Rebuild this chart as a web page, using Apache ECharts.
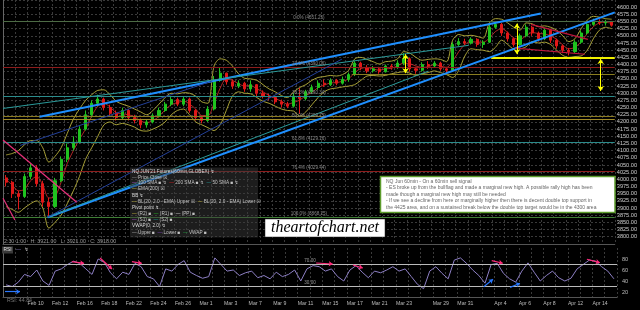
<!DOCTYPE html>
<html><head><meta charset="utf-8">
<script src="https://cdn.jsdelivr.net/npm/echarts@6/dist/echarts.min.js"></script>
<style>html,body{margin:0;padding:0;background:#000}#c{width:640px;height:310px}</style>
</head><body><div id="c"></div>
<script>
// ---- DATA (half-session slots) ----
const openP = [4005,3990,3950,3940,4010,4040,3985,3920,3905,3995,
  4070,4110,4130,4175,4225,4265,4280,4250,4230,4215,
  4240,4215,4205,4190,4200,4222,4240,4262,4278,4262,
  4280,4240,4215,4205,4245,4345,4370,4340,4325,4335,
  4315,4330,4300,4290,4285,4270,4262,4255,4290,4282,
  4305,4320,4335,4330,4345,4335,4348,4365,4405,4390,
  4378,4385,4375,4395,4390,4405,4420,4385,4380,4400,
  4395,4405,4385,4380,4470,4480,4475,4488,4470,4478,
  4530,4540,4510,4490,4470,4500,4530,4510,4490,4520,
  4485,4465,4450,4445,4478,4510,4540,4550,4545,4548];
const closeP = [3990,3950,3940,4010,4040,3985,3920,3905,3995,4070,
  4110,4130,4175,4225,4265,4280,4250,4230,4215,4240,
  4215,4205,4190,4200,4222,4240,4262,4278,4262,4280,
  4240,4215,4205,4245,4345,4370,4340,4325,4335,4315,
  4330,4300,4290,4285,4270,4262,4255,4290,4282,4305,
  4320,4335,4330,4345,4335,4348,4365,4405,4390,4378,
  4385,4375,4395,4390,4405,4420,4385,4380,4400,4395,
  4405,4385,4380,4470,4480,4475,4488,4470,4478,4530,
  4540,4510,4490,4470,4500,4530,4510,4490,4520,4485,
  4465,4450,4445,4478,4510,4540,4550,4545,4548,4537];
const lowP = [3975,3935,3895,3935,4000,3975,3905,3868,3900,3990,
  4060,4100,4125,4170,4215,4255,4240,4220,4205,4210,
  4205,4195,4178,4180,4195,4215,4235,4255,4255,4255,
  4232,4205,4195,4200,4240,4340,4330,4315,4318,4305,
  4305,4290,4282,4275,4262,4250,4248,4250,4228,4275,
  4298,4312,4322,4325,4328,4330,4340,4360,4380,4370,
  4372,4368,4372,4382,4385,4398,4375,4368,4375,4385,
  4388,4378,4370,4378,4465,4468,4470,4462,4458,4475,
  4525,4500,4480,4462,4465,4495,4500,4480,4485,4475,
  4455,4440,4432,4440,4472,4505,4535,4538,4536,4532];
const highP = [4015,3995,3960,4020,4055,4050,3995,3935,4005,4080,
  4125,4150,4185,4240,4275,4295,4285,4260,4240,4250,
  4245,4225,4212,4210,4230,4250,4270,4290,4285,4290,
  4285,4245,4222,4255,4360,4388,4372,4348,4345,4340,
  4345,4332,4310,4298,4290,4278,4270,4300,4318,4312,
  4330,4345,4348,4352,4350,4358,4372,4412,4410,4398,
  4395,4392,4400,4402,4415,4440,4425,4392,4408,4412,
  4412,4410,4392,4478,4492,4490,4495,4492,4485,4540,
  4551,4545,4515,4495,4508,4540,4535,4515,4528,4525,
  4490,4470,4458,4485,4518,4548,4560,4558,4556,4552];
const maLine = [4000,3980,3960,3965,3995,4010,3980,3935,3940,3990,
  4055,4100,4140,4175,4220,4255,4265,4252,4232,4228,
  4225,4218,4203,4198,4204,4220,4242,4260,4267,4273,
  4262,4245,4222,4222,4265,4318,4350,4345,4333,4325,
  4327,4315,4305,4292,4282,4272,4262,4268,4276,4292,
  4303,4320,4328,4336,4337,4342,4350,4372,4386,4390,
  4385,4380,4385,4387,4396,4405,4403,4395,4390,4392,
  4400,4395,4390,4412,4445,4470,4480,4478,4478,4492,
  4515,4525,4512,4492,4488,4500,4512,4508,4507,4500,
  4488,4468,4455,4460,4480,4508,4532,4545,4547,4544];
const bbUpper = [4085,4090,4100,4120,4135,4135,4110,4060,4080,4110,
  4160,4210,4245,4275,4295,4310,4312,4295,4272,4262,
  4255,4245,4235,4225,4240,4262,4285,4300,4298,4302,
  4300,4290,4270,4265,4395,4420,4415,4395,4368,4352,
  4350,4345,4330,4315,4305,4292,4285,4305,4320,4330,
  4345,4355,4358,4362,4360,4365,4380,4420,4425,4418,
  4410,4402,4410,4412,4420,4445,4440,4425,4415,4418,
  4420,4418,4410,4485,4505,4500,4502,4498,4492,4545,
  4560,4558,4545,4530,4520,4545,4542,4532,4535,4530,
  4520,4500,4480,4490,4525,4555,4568,4565,4560,4558];
const bbLower = [3905,3895,3885,3900,3915,3925,3900,3830,3850,3875,
  3915,3960,4010,4070,4110,4150,4190,4200,4190,4195,
  4190,4182,4170,4168,4175,4185,4200,4225,4240,4245,
  4225,4200,4190,4180,4170,4190,4240,4290,4305,4300,
  4298,4285,4272,4265,4255,4245,4240,4238,4220,4235,
  4260,4285,4305,4315,4318,4322,4325,4330,4345,4360,
  4362,4360,4362,4368,4372,4375,4370,4362,4368,4372,
  4378,4372,4365,4355,4380,4430,4455,4452,4450,4445,
  4460,4485,4470,4455,4455,4462,4480,4475,4478,4470,
  4450,4432,4425,4428,4430,4450,4490,4520,4530,4525];
const rsi = [33,30,38,52,48,60,40,32,58,62,
  70,76,72,62,52,80,74,55,44,56,
  52,72,66,48,44,30,62,58,70,77,
  56,50,45,48,82,70,58,60,50,55,
  58,46,50,44,56,48,52,60,40,62,
  68,66,58,62,48,40,60,68,56,46,
  58,55,60,66,58,62,48,34,26,58,
  66,54,44,78,82,72,60,50,36,70,
  72,54,44,38,58,73,56,40,50,58,
  46,40,45,62,70,78,76,66,58,44];
const tickDays = [2,4,6,8,10,12,14,16,18,20,22,24,26,28,30,32,35,37,40,42,44,46,48];
const tickLabels = ['Feb 10','Feb 12','Feb 16','Feb 18','Feb 22','Feb 24','Feb 26','Mar 1','Mar 3','Mar 7','Mar 9','Mar 11',
  'Mar 15','Mar 17','Mar 21','Mar 23','Mar 29','Mar 31','Apr 4','Apr 6','Apr 8','Apr 12','Apr 14'];
const fibLevels = [4551.25, 4390.06, 4290.34, 4209.75, 4129.16, 4029.44, 3868.25];
const fibLabels = ['0.0% (4551.25)','23.6% (4390.06)','38.2% (4290.34)','50.0% (4209.75)','61.8% (4129.16)','76.4% (4029.44)','100.0% (3868.25)'];
const extraLevels = [4221];
const levelSegments = [[4425, 79.8, 100], [4365, 57.0, 100]]; // price, from slot, to slot
const trendLines = [ // [slotA, priceA, slotB, priceB]
  [6.0, 4218, 87.9, 4578],
  [7.3, 3868, 100, 4582],
  [0, 4247, 76.1, 4467],
  [7.3, 3868, 69.5, 4377],
  [7.3, 3868, 55.4, 4419],
  [2.8, 4118, 34.2, 4343],
  [0, 4137, 12.05, 3920],
  [0, 3934, 1.95, 3858],
  [86.3, 4540, 95.6, 4488],
  [83.7, 4457, 95.1, 4436]
];
const arrowsPrice = [[65.8, 4436, 4370], [84.0, 4543, 4436], [97.7, 4419, 4308]];
const rsiLevels = [70, 30];
const rsiDownArrows = [[11.2,75.1,13.2,72.2],[15.8,81.8,17.75,61.8],[21.0,75.1,22.6,72.2],[51.0,72.7,53.7,70.9],
  [57.0,69.1,58.6,63.6],[79.6,76.9,81.4,72.2],[95.1,79.5,97.2,73.3]];
const rsiUpArrows = [[0.33,20.5,2.77,20.5],[78.3,29.6,79.8,43.1],[82.6,28.5,84.2,35.8]];
const noteLines = [
  'NQ Jun 60min - On a 60min sell signal',
  '- ES broke up from the bullflag and made a marginal new high. A possible rally high has been',
  'made though a marginal new high may still be needed',
  '- If we see a decline from here or marginally higher then there is decent double top support in',
  'the 4425 area, and on a sustained break below the double top target would be in the 4300 area'
];

// ---- STYLES ----
const fibColors = ['#4d6b45','#8e1c1c','#2b8c8c','#a08a2a','#2b8c8c','#8e1c1c','#3f7f35'];
const trendStyles = [
  {color:'#1e8fff',width:2},{color:'#1e8fff',width:2},{color:'#2a9a9a',width:1},{color:'#2a9a9a',width:1},
  {color:'#23409a',width:1},{color:'#23409a',width:1},{color:'#e8307a',width:1.2},{color:'#e8307a',width:1.2},
  {color:'#c0143c',width:1.2},{color:'#c0143c',width:1.2}
];

const chart = echarts.init(document.getElementById('c'), null, {renderer:'canvas'});
const N = closeP.length;
const candles = closeP.map((c,i)=>[i+0.5, openP[i], c, lowP[i], highP[i]]);
const fmtDay = v => { const k = tickDays.indexOf(Math.round(v/2)); return k>=0 ? tickLabels[k] : ''; };

const fibMarks = fibLevels.map((p,i)=>({yAxis:p, lineStyle:{color:fibColors[i],width:1,type:'solid'},
  label:{show:true, formatter:fibLabels[i], position:'insideMiddleTop', color:'#8a8a8a', fontSize:4.6, distance:1}}));
extraLevels.forEach(p=>fibMarks.push({yAxis:p, lineStyle:{color:'#8a7a22',width:1,type:'solid'}, label:{show:false}}));
levelSegments.forEach((s,i)=>fibMarks.push([{coord:[s[1],s[0]], lineStyle:{color:i===0?'#f0f000':'#8a7e20',width:i===0?2:1,type:'solid'}},{coord:[s[2],s[0]]}]));
const trendMarks = trendLines.map((t,i)=>[{coord:[t[0],t[1]], lineStyle:{color:trendStyles[i].color,width:trendStyles[i].width,type:'solid'}},{coord:[t[2],t[3]]}]);
const arrowMarks = arrowsPrice.map(a=>[{coord:[a[0],a[1]]},{coord:[a[0],a[2]]}]);
const rsiArrowMarks = rsiDownArrows.map(a=>[{coord:[a[0],a[1]], lineStyle:{color:'#ff2a7a',width:1.2,type:'solid'}},{coord:[a[2],a[3]]}])
  .concat(rsiUpArrows.map(a=>[{coord:[a[0],a[1]], lineStyle:{color:'#2a78ff',width:1.2,type:'solid'}},{coord:[a[2],a[3]]}]));

const legendRows = [
  [['NQ JUN\'21 Futures(60min,GLOBEX) ↯','#d8d8d8']],
  [['— ','#9a9a9a'],['Price Close ☒','#c4c4c4']],
  [['— ','#b050d0'],['100 SMA ■ ↯  ','#c4c4c4'],['— ','#e02020'],['200 SMA ■ ↯  ','#c4c4c4'],['— ','#20a0a0'],['50 SMA ■ ↯','#c4c4c4']],
  [['— ','#d0c040'],['EMA(200) ☒','#c4c4c4']],
  [['BB ↯','#d8d8d8']],
  [['— ','#d0c040'],['BL(20, 2.0 - EMA) Upper ☒  ','#c4c4c4'],['— ','#d0c040'],['BL(20, 2.0 - EMA) Lower ☒','#c4c4c4']],
  [['Pivot point ↯','#d8d8d8']],
  [['— ','#d0c040'],['(R2) ■  ','#c4c4c4'],['— ','#20c020'],['(R1) ■  ','#c4c4c4'],['— ','#dddddd'],['(PP) ■','#c4c4c4']],
  [['— ','#b050d0'],['(S1) ■  ','#c4c4c4'],['— ','#20a0a0'],['(S2) ■','#c4c4c4']],
  [['VWAP(0, 2.0) ↯','#d8d8d8']],
  [['— ','#aaaaaa'],['Upper ■  ','#c4c4c4'],['— ','#8040c0'],['Lower ■  ','#c4c4c4'],['— ','#20a040'],['VWAP ■','#c4c4c4']]
];
const legendY = [171.5,177.3,183.2,189,195.8,202,208,214,220,226,232.5];
const legendGraphics = legendRows.map((row,r)=>{
  const rich = {}; let txt = '';
  row.forEach((s,j)=>{ rich['s'+j] = {fill:s[1], font:'4.7px "Liberation Sans", "DejaVu Sans"'}; txt += '{s'+j+'|'+s[0]+'}'; });
  return {type:'text', x:132, y:legendY[r], style:{text:txt, rich:rich, font:'4.7px "Liberation Sans"', verticalAlign:'middle'}, z:100};
});

const option = {
  backgroundColor:'#000',
  animation:false,
  grid:[{left:3,right:23,top:-1.52,height:245.4},{left:3,right:23,top:248,height:49.5}],
  xAxis:[
    {type:'value',gridIndex:0,min:0,max:N,interval:2,axisLabel:{show:false},axisTick:{show:false},
      axisLine:{show:true,lineStyle:{color:'#555',width:1}},splitLine:{show:true,lineStyle:{color:'#3a3a3a',type:[2,2]}}},
    {type:'value',gridIndex:1,min:0,max:N,interval:2,axisTick:{show:false},
      axisLine:{show:true,lineStyle:{color:'#555',width:1}},splitLine:{show:true,lineStyle:{color:'#3a3a3a',type:[2,2]}},
      axisLabel:{formatter:fmtDay,color:'#bbbbbb',fontSize:5.2,align:'left',margin:4,fontFamily:'Liberation Sans'}}
  ],
  yAxis:[
    {type:'value',gridIndex:0,position:'right',min:3775,max:4625,interval:25,
      axisLabel:{color:'#cccccc',fontSize:5.6,margin:2,fontFamily:'Liberation Sans',formatter:v=>(v<3800||v>4600)?'':v.toFixed(2)},
      axisLine:{show:true,lineStyle:{color:'#666'}},axisTick:{show:false},
      splitLine:{show:true,lineStyle:{color:'#3a3a3a',type:[2,2]}}},
    {type:'value',gridIndex:1,position:'right',min:10,max:100,interval:10,
      axisLabel:{color:'#bbbbbb',fontSize:5.6,margin:5,fontFamily:'Liberation Sans',formatter:v=>[20,40,60,80].includes(v)?String(v):''},
      axisLine:{show:true,lineStyle:{color:'#666'}},axisTick:{show:false},splitLine:{show:false}}
  ],
  series:[
    {type:'line',xAxisIndex:0,yAxisIndex:0,data:[[-10,4000]],showSymbol:false,silent:true,z:1,
      markLine:{silent:true,symbol:'none',animation:false,data:fibMarks}},
    {type:'line',xAxisIndex:0,yAxisIndex:0,data:bbUpper.map((v,i)=>[i+0.5,v]),showSymbol:false,smooth:0.3,z:2,
      lineStyle:{color:'#b9b13c',width:0.9}},
    {type:'line',xAxisIndex:0,yAxisIndex:0,data:bbLower.map((v,i)=>[i+0.5,v]),showSymbol:false,smooth:0.3,z:2,
      lineStyle:{color:'#b9b13c',width:0.9}},
    {type:'candlestick',xAxisIndex:0,yAxisIndex:0,data:candles,barWidth:2.6,z:3,
      itemStyle:{color:'#1fc31f',color0:'#e01818',borderColor:'#1fc31f',borderColor0:'#e01818',borderWidth:1}},
    {type:'line',xAxisIndex:0,yAxisIndex:0,data:maLine.map((v,i)=>[i+0.5,v]),showSymbol:false,smooth:0.3,z:3,
      lineStyle:{color:'#d83030',width:0.8}},
    {type:'line',xAxisIndex:0,yAxisIndex:0,data:[[-10,4000]],showSymbol:false,silent:true,z:4,
      markLine:{silent:true,symbol:'none',animation:false,data:trendMarks}},
    {type:'line',xAxisIndex:0,yAxisIndex:0,data:[[-10,4000]],showSymbol:false,silent:true,z:5,
      markLine:{silent:true,symbol:['arrow','arrow'],symbolSize:5,animation:false,
        lineStyle:{color:'#ffff00',width:1,type:'solid'},label:{show:false},data:arrowMarks}},
    {type:'line',xAxisIndex:0,yAxisIndex:0,data:[[-10,4000]],showSymbol:false,silent:true,z:6,
      markLine:{silent:true,symbol:'none',animation:false,
        data:[{yAxis:closeP[N-1],lineStyle:{opacity:0},label:{show:true,position:'end',distance:2,
          formatter:closeP[N-1].toFixed(2),backgroundColor:'#c9c633',color:'#111',fontSize:5.6,padding:[1,1],fontFamily:'Liberation Sans'}}]}},
    {type:'line',xAxisIndex:1,yAxisIndex:1,data:rsi.map((v,i)=>[i+0.5,v]),showSymbol:false,z:3,
      lineStyle:{color:'#8d7fc4',width:1},
      markLine:{silent:true,symbol:'none',animation:false,
        data:rsiLevels.map(v=>({yAxis:v,lineStyle:{color:'#bbbbbb',width:1,type:'solid'},
          label:{show:true,position:'insideMiddleTop',formatter:v.toFixed(2),color:'#999',fontSize:4.6,distance:1}}))}},
    {type:'line',xAxisIndex:1,yAxisIndex:1,data:[[-10,50]],showSymbol:false,silent:true,z:4,
      markLine:{silent:true,symbol:['none','arrow'],symbolSize:4,animation:false,label:{show:false},data:rsiArrowMarks}}
  ],
  graphic:[
    {type:'rect',shape:{x:130,y:167.5,width:128,height:70},style:{fill:'rgba(58,58,58,0.5)'},z:99},
    ...legendGraphics,
    {type:'rect',shape:{x:380.5,y:176.5,width:234.5,height:36},style:{fill:'#ffffff',stroke:'#5c9c2c',lineWidth:1.5},z:100},
    {type:'text',x:386,y:178.5,style:{text:noteLines.join('\n'),fill:'#666666',font:'5px "Liberation Sans"',lineHeight:6.4},z:101},
    {type:'rect',shape:{x:265,y:219,width:120,height:18},style:{fill:'#ffffff',stroke:'#222',lineWidth:0.5},z:100},
    {type:'text',x:325,y:228,style:{text:'theartofchart.net',fill:'#000',font:'italic 16px "Liberation Serif"',align:'center',verticalAlign:'middle'},z:101},
    {type:'text',x:4,y:241.5,style:{text:'2:30 1:00   H: 3921.00   L: 3921.00   C: 3918.00',fill:'#9a9a9a',font:'5.3px "Liberation Sans"',verticalAlign:'middle'},z:101},
    {type:'rect',shape:{x:2,y:246.5,width:11,height:7},style:{fill:'#3a3a3a'},z:100},
    {type:'text',x:3.5,y:250,style:{text:'RSI',fill:'#e0e0e0',font:'4.8px "Liberation Sans"',verticalAlign:'middle'},z:101},
    {type:'text',x:16,y:250,style:{text:'{a|—} {b|↯}',rich:{a:{fill:'#8d7fc4',font:'5px "Liberation Sans"'},b:{fill:'#bbb',font:'5px "DejaVu Sans"'}},verticalAlign:'middle'},z:101},
    {type:'text',x:7,y:300.5,style:{text:'RSI: 44.84',fill:'#777',font:'5.3px "Liberation Sans"',verticalAlign:'middle'},z:101}
  ]
};
chart.setOption(option);
</script></body></html>
